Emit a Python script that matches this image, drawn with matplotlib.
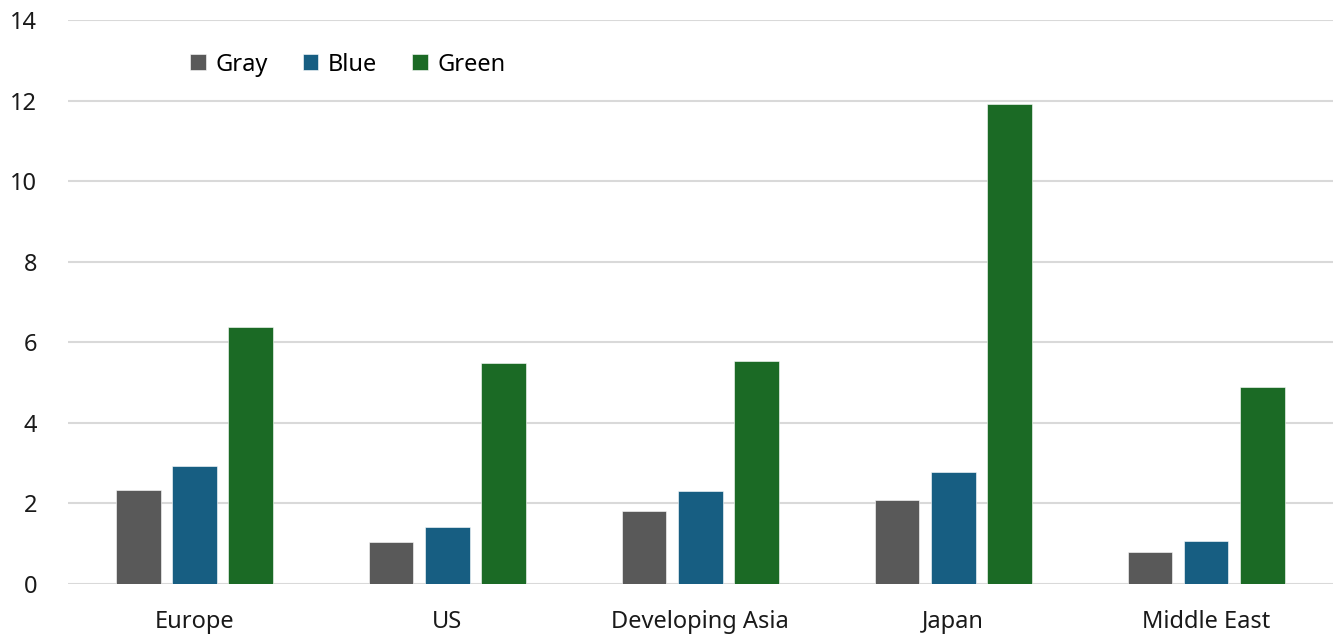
import numpy as np
import matplotlib.pyplot as plt

plt.rcParams['font.family'] = ['Noto Sans', 'DejaVu Sans']

# Veriler
kategoriler = ['Europe', 'US', 'Developing Asia', 'Japan', 'Middle East']
gray_values = [2.33, 1.04, 1.81, 2.08, 0.79]
blue_values = [2.93, 1.41, 2.31, 2.78, 1.07]
green_values = [6.38, 5.49, 5.53, 11.91, 4.89]
seriler = ['Gray', 'Blue', 'Green']
renkler = ['#595959', '#175e82', '#1b6a25']

fig = plt.figure(figsize=(13.38, 6.35), dpi=100)
ax = fig.add_axes([0.0508, 0.0803, 0.9452, 0.8882])

x = np.arange(len(kategoriler))
genislik = 0.176
aralik = 0.222
for i, (vals, ad, renk) in enumerate(zip([gray_values, blue_values, green_values], seriler, renkler)):
    ax.bar(x + (i - 1) * aralik, vals, genislik, color=renk, label=ad,
           edgecolor='#ffffff', linewidth=0.4, zorder=3)

ax.set_xlim(-0.5, len(kategoriler) - 0.5)
ax.set_ylim(0, 14)
ax.set_yticks(range(0, 15, 2))
ax.set_xticks(x)
ax.set_xticklabels(kategoriler)
ax.tick_params(axis='both', length=0, labelsize=17, colors='#1a1a1a')
ax.tick_params(axis='x', pad=19)
ax.tick_params(axis='y', pad=22)
ax.grid(axis='y', color='#d9d9d9', linewidth=1.5, zorder=0)
for s in ax.spines.values():
    s.set_visible(False)

ax.legend(loc='upper left', bbox_to_anchor=(0.08, 0.98), ncol=3, frameon=False,
          fontsize=17, handlelength=0.65, handleheight=0.65, handletextpad=0.4,
          columnspacing=1.5)

fig.savefig('out.png', dpi=100)
